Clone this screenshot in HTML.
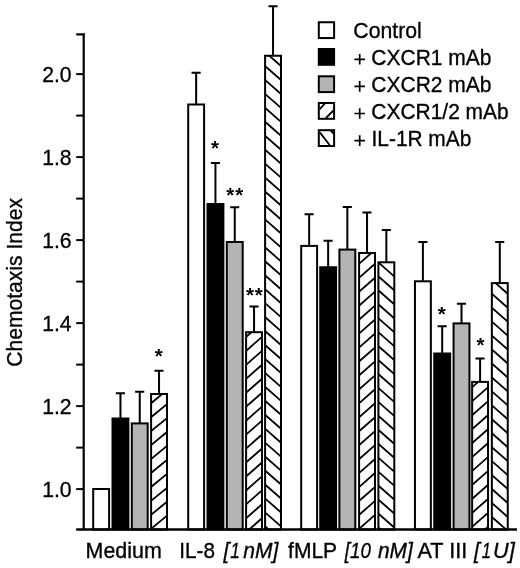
<!DOCTYPE html>
<html><head><meta charset="utf-8"><title>Chart</title>
<style>
html,body{margin:0;padding:0;background:#fff;}
body{width:520px;height:568px;overflow:hidden;}
svg{display:block;filter:grayscale(1);}
text{font-family:"Liberation Sans",sans-serif;font-size:20px;fill:#000;stroke:#000;stroke-width:0.3px;}
.i{font-style:italic;}
.st{font-weight:bold;font-size:20.5px;stroke:none;letter-spacing:0.8px;}
</style></head><body>
<svg width="520" height="568" viewBox="0 0 520 568">
<rect width="520" height="568" fill="#fff"/>

<defs><clipPath id="c1"><rect x="151.10" y="394.00" width="15.90" height="135.50"/></clipPath><clipPath id="c2"><rect x="246.10" y="332.20" width="15.90" height="197.30"/></clipPath><clipPath id="c3"><rect x="265.10" y="55.75" width="15.90" height="473.75"/></clipPath><clipPath id="c4"><rect x="359.10" y="253.00" width="15.90" height="276.50"/></clipPath><clipPath id="c5"><rect x="378.40" y="262.30" width="15.90" height="267.20"/></clipPath><clipPath id="c6"><rect x="472.15" y="381.90" width="15.90" height="147.60"/></clipPath><clipPath id="c7"><rect x="491.85" y="283.10" width="15.90" height="246.40"/></clipPath></defs>
<rect x="93.20" y="489.00" width="15.90" height="40.50" fill="#fff" stroke="#000" stroke-width="2.0"/>
<rect x="112.50" y="418.50" width="15.90" height="111.00" fill="#000" stroke="#000" stroke-width="2.0"/>
<path d="M120.45 418.00 V393.25 M115.85 393.25 H124.95" stroke="#000" stroke-width="2" fill="none"/>
<rect x="131.80" y="423.40" width="15.90" height="106.10" fill="#b4b4b4" stroke="#000" stroke-width="2.0"/>
<path d="M139.75 422.90 V391.75 M135.15 391.75 H144.25" stroke="#000" stroke-width="2" fill="none"/>
<rect x="151.10" y="394.00" width="15.90" height="135.50" fill="#fff" stroke="#000" stroke-width="2.0"/>
<path clip-path="url(#c1)" d="M148.10 363.81L170.00 345.85M148.10 377.76L170.00 359.80M148.10 391.71L170.00 373.75M148.10 405.66L170.00 387.70M148.10 419.61L170.00 401.65M148.10 433.56L170.00 415.60M148.10 447.51L170.00 429.55M148.10 461.46L170.00 443.50M148.10 475.41L170.00 457.45M148.10 489.36L170.00 471.40M148.10 503.31L170.00 485.35M148.10 517.26L170.00 499.30M148.10 531.21L170.00 513.25M148.10 545.16L170.00 527.20M148.10 559.11L170.00 541.15M148.10 573.06L170.00 555.10" stroke="#000" stroke-width="1.8" fill="none"/>
<path d="M159.05 393.50 V370.75 M154.45 370.75 H163.55" stroke="#000" stroke-width="2" fill="none"/>
<rect x="188.20" y="104.50" width="15.90" height="425.00" fill="#fff" stroke="#000" stroke-width="2.0"/>
<path d="M196.15 104.00 V72.75 M191.55 72.75 H200.65" stroke="#000" stroke-width="2" fill="none"/>
<rect x="207.50" y="204.00" width="15.90" height="325.50" fill="#000" stroke="#000" stroke-width="2.0"/>
<path d="M215.45 203.50 V163.00 M210.85 163.00 H219.95" stroke="#000" stroke-width="2" fill="none"/>
<rect x="226.80" y="242.00" width="15.90" height="287.50" fill="#b4b4b4" stroke="#000" stroke-width="2.0"/>
<path d="M234.75 241.50 V207.30 M230.15 207.30 H239.25" stroke="#000" stroke-width="2" fill="none"/>
<rect x="246.10" y="332.20" width="15.90" height="197.30" fill="#fff" stroke="#000" stroke-width="2.0"/>
<path clip-path="url(#c2)" d="M243.10 297.71L265.00 278.44M243.10 311.66L265.00 292.39M243.10 325.61L265.00 306.34M243.10 339.56L265.00 320.29M243.10 353.51L265.00 334.24M243.10 367.46L265.00 348.19M243.10 381.41L265.00 362.14M243.10 395.36L265.00 376.09M243.10 409.31L265.00 390.04M243.10 423.26L265.00 403.99M243.10 437.21L265.00 417.94M243.10 451.16L265.00 431.89M243.10 465.11L265.00 445.84M243.10 479.06L265.00 459.79M243.10 493.01L265.00 473.74M243.10 506.96L265.00 487.69M243.10 520.91L265.00 501.64M243.10 534.86L265.00 515.59M243.10 548.81L265.00 529.54M243.10 562.76L265.00 543.49M243.10 576.71L265.00 557.44" stroke="#000" stroke-width="1.8" fill="none"/>
<path d="M254.05 331.70 V306.40 M249.45 306.40 H258.55" stroke="#000" stroke-width="2" fill="none"/>
<rect x="265.10" y="55.75" width="15.90" height="473.75" fill="#fff" stroke="#000" stroke-width="2.0"/>
<path clip-path="url(#c3)" d="M262.10 7.59L284.00 26.86M262.10 21.54L284.00 40.81M262.10 35.49L284.00 54.76M262.10 49.44L284.00 68.71M262.10 63.39L284.00 82.66M262.10 77.34L284.00 96.61M262.10 91.29L284.00 110.56M262.10 105.24L284.00 124.51M262.10 119.19L284.00 138.46M262.10 133.14L284.00 152.41M262.10 147.09L284.00 166.36M262.10 161.04L284.00 180.31M262.10 174.99L284.00 194.26M262.10 188.94L284.00 208.21M262.10 202.89L284.00 222.16M262.10 216.84L284.00 236.11M262.10 230.79L284.00 250.06M262.10 244.74L284.00 264.01M262.10 258.69L284.00 277.96M262.10 272.64L284.00 291.91M262.10 286.59L284.00 305.86M262.10 300.54L284.00 319.81M262.10 314.49L284.00 333.76M262.10 328.44L284.00 347.71M262.10 342.39L284.00 361.66M262.10 356.34L284.00 375.61M262.10 370.29L284.00 389.56M262.10 384.24L284.00 403.51M262.10 398.19L284.00 417.46M262.10 412.14L284.00 431.41M262.10 426.09L284.00 445.36M262.10 440.04L284.00 459.31M262.10 453.99L284.00 473.26M262.10 467.94L284.00 487.21M262.10 481.89L284.00 501.16M262.10 495.84L284.00 515.11M262.10 509.79L284.00 529.06M262.10 523.74L284.00 543.01M262.10 537.69L284.00 556.96M262.10 551.64L284.00 570.91M262.10 565.59L284.00 584.86" stroke="#000" stroke-width="1.8" fill="none"/>
<path d="M273.05 55.25 V6.25 M268.45 6.25 H277.55" stroke="#000" stroke-width="2" fill="none"/>
<rect x="301.20" y="245.90" width="15.90" height="283.60" fill="#fff" stroke="#000" stroke-width="2.0"/>
<path d="M309.15 245.40 V214.25 M304.55 214.25 H313.65" stroke="#000" stroke-width="2" fill="none"/>
<rect x="320.20" y="267.25" width="15.90" height="262.25" fill="#000" stroke="#000" stroke-width="2.0"/>
<path d="M328.15 266.75 V240.75 M323.55 240.75 H332.65" stroke="#000" stroke-width="2" fill="none"/>
<rect x="339.40" y="249.60" width="15.90" height="279.90" fill="#b4b4b4" stroke="#000" stroke-width="2.0"/>
<path d="M347.35 249.10 V207.00 M342.75 207.00 H351.85" stroke="#000" stroke-width="2" fill="none"/>
<rect x="359.10" y="253.00" width="15.90" height="276.50" fill="#fff" stroke="#000" stroke-width="2.0"/>
<path clip-path="url(#c4)" d="M356.10 224.58L378.00 205.31M356.10 238.53L378.00 219.26M356.10 252.48L378.00 233.21M356.10 266.43L378.00 247.16M356.10 280.38L378.00 261.11M356.10 294.33L378.00 275.06M356.10 308.28L378.00 289.01M356.10 322.23L378.00 302.96M356.10 336.18L378.00 316.91M356.10 350.13L378.00 330.86M356.10 364.08L378.00 344.81M356.10 378.03L378.00 358.76M356.10 391.98L378.00 372.71M356.10 405.93L378.00 386.66M356.10 419.88L378.00 400.61M356.10 433.83L378.00 414.56M356.10 447.78L378.00 428.51M356.10 461.73L378.00 442.46M356.10 475.68L378.00 456.41M356.10 489.63L378.00 470.36M356.10 503.58L378.00 484.31M356.10 517.53L378.00 498.26M356.10 531.48L378.00 512.21M356.10 545.43L378.00 526.16M356.10 559.38L378.00 540.11M356.10 573.33L378.00 554.06" stroke="#000" stroke-width="1.8" fill="none"/>
<path d="M367.05 252.50 V212.50 M362.45 212.50 H371.55" stroke="#000" stroke-width="2" fill="none"/>
<rect x="378.40" y="262.30" width="15.90" height="267.20" fill="#fff" stroke="#000" stroke-width="2.0"/>
<path clip-path="url(#c5)" d="M375.40 217.98L397.30 237.25M375.40 231.93L397.30 251.20M375.40 245.88L397.30 265.15M375.40 259.83L397.30 279.10M375.40 273.78L397.30 293.05M375.40 287.73L397.30 307.00M375.40 301.68L397.30 320.95M375.40 315.63L397.30 334.90M375.40 329.58L397.30 348.85M375.40 343.53L397.30 362.80M375.40 357.48L397.30 376.75M375.40 371.43L397.30 390.70M375.40 385.38L397.30 404.65M375.40 399.33L397.30 418.60M375.40 413.28L397.30 432.55M375.40 427.23L397.30 446.50M375.40 441.18L397.30 460.45M375.40 455.13L397.30 474.40M375.40 469.08L397.30 488.35M375.40 483.03L397.30 502.30M375.40 496.98L397.30 516.25M375.40 510.93L397.30 530.20M375.40 524.88L397.30 544.15M375.40 538.83L397.30 558.10M375.40 552.78L397.30 572.05M375.40 566.73L397.30 586.00" stroke="#000" stroke-width="1.8" fill="none"/>
<path d="M386.35 261.80 V230.00 M381.75 230.00 H390.85" stroke="#000" stroke-width="2" fill="none"/>
<rect x="414.95" y="281.30" width="15.90" height="248.20" fill="#fff" stroke="#000" stroke-width="2.0"/>
<path d="M422.90 280.80 V242.00 M418.30 242.00 H427.40" stroke="#000" stroke-width="2" fill="none"/>
<rect x="434.25" y="353.50" width="15.90" height="176.00" fill="#000" stroke="#000" stroke-width="2.0"/>
<path d="M442.20 353.00 V326.25 M437.60 326.25 H446.70" stroke="#000" stroke-width="2" fill="none"/>
<rect x="453.55" y="323.40" width="15.90" height="206.10" fill="#b4b4b4" stroke="#000" stroke-width="2.0"/>
<path d="M461.50 322.90 V303.75 M456.90 303.75 H466.00" stroke="#000" stroke-width="2" fill="none"/>
<rect x="472.15" y="381.90" width="15.90" height="147.60" fill="#fff" stroke="#000" stroke-width="2.0"/>
<path clip-path="url(#c6)" d="M469.15 348.05L491.05 328.78M469.15 362.00L491.05 342.73M469.15 375.95L491.05 356.68M469.15 389.90L491.05 370.63M469.15 403.85L491.05 384.58M469.15 417.80L491.05 398.53M469.15 431.75L491.05 412.48M469.15 445.70L491.05 426.43M469.15 459.65L491.05 440.38M469.15 473.60L491.05 454.33M469.15 487.55L491.05 468.28M469.15 501.50L491.05 482.23M469.15 515.45L491.05 496.18M469.15 529.40L491.05 510.13M469.15 543.35L491.05 524.08M469.15 557.30L491.05 538.03M469.15 571.25L491.05 551.98" stroke="#000" stroke-width="1.8" fill="none"/>
<path d="M480.10 381.40 V358.50 M475.50 358.50 H484.60" stroke="#000" stroke-width="2" fill="none"/>
<rect x="491.85" y="283.10" width="15.90" height="246.40" fill="#fff" stroke="#000" stroke-width="2.0"/>
<path clip-path="url(#c7)" d="M488.85 235.31L510.75 254.58M488.85 249.26L510.75 268.53M488.85 263.21L510.75 282.48M488.85 277.16L510.75 296.43M488.85 291.11L510.75 310.38M488.85 305.06L510.75 324.33M488.85 319.01L510.75 338.28M488.85 332.96L510.75 352.23M488.85 346.91L510.75 366.18M488.85 360.86L510.75 380.13M488.85 374.81L510.75 394.08M488.85 388.76L510.75 408.03M488.85 402.71L510.75 421.98M488.85 416.66L510.75 435.93M488.85 430.61L510.75 449.88M488.85 444.56L510.75 463.83M488.85 458.51L510.75 477.78M488.85 472.46L510.75 491.73M488.85 486.41L510.75 505.68M488.85 500.36L510.75 519.63M488.85 514.31L510.75 533.58M488.85 528.26L510.75 547.53M488.85 542.21L510.75 561.48M488.85 556.16L510.75 575.43" stroke="#000" stroke-width="1.8" fill="none"/>
<path d="M499.80 282.60 V242.00 M495.20 242.00 H504.30" stroke="#000" stroke-width="2" fill="none"/>
<path d="M83.7 33.4 V529.5" stroke="#000" stroke-width="2.2" fill="none"/>
<path d="M76.2 529.5 H516.9" stroke="#000" stroke-width="2.4" fill="none"/>
<path d="M76.2 489.10 H84" stroke="#000" stroke-width="2" fill="none"/>
<path d="M76.2 447.60 H84" stroke="#000" stroke-width="2" fill="none"/>
<path d="M76.2 406.10 H84" stroke="#000" stroke-width="2" fill="none"/>
<path d="M76.2 364.60 H84" stroke="#000" stroke-width="2" fill="none"/>
<path d="M76.2 323.10 H84" stroke="#000" stroke-width="2" fill="none"/>
<path d="M76.2 281.60 H84" stroke="#000" stroke-width="2" fill="none"/>
<path d="M76.2 240.10 H84" stroke="#000" stroke-width="2" fill="none"/>
<path d="M76.2 198.60 H84" stroke="#000" stroke-width="2" fill="none"/>
<path d="M76.2 157.10 H84" stroke="#000" stroke-width="2" fill="none"/>
<path d="M76.2 115.60 H84" stroke="#000" stroke-width="2" fill="none"/>
<path d="M76.2 74.10 H84" stroke="#000" stroke-width="2" fill="none"/>
<path d="M76.2 34.4 H84.8" stroke="#000" stroke-width="2.2" fill="none"/>
<text x="71.6" y="496.60" text-anchor="end" style="font-size:21.2px">1.0</text>
<text x="71.6" y="413.60" text-anchor="end" style="font-size:21.2px">1.2</text>
<text x="71.6" y="330.60" text-anchor="end" style="font-size:21.2px">1.4</text>
<text x="71.6" y="247.60" text-anchor="end" style="font-size:21.2px">1.6</text>
<text x="71.6" y="164.60" text-anchor="end" style="font-size:21.2px">1.8</text>
<text x="71.6" y="81.60" text-anchor="end" style="font-size:21.2px">2.0</text>
<text transform="translate(21.60 366.75) rotate(-90) scale(1.0548 1.1200)">Chemotaxis Index</text>
<text transform="translate(85.59 558.30) scale(1.0718 1.0600)">Medium</text>
<text transform="translate(179.34 558.30) scale(1.0346 1.0600)">IL-8</text>
<text class="i" transform="translate(223.42 558.30) scale(1.0500 1.0600)">[</text>
<text class="i" transform="translate(230.16 558.30) scale(0.8764 1.0600)">1</text>
<text class="i" transform="translate(243.33 558.30) scale(1.0511 1.0600)">nM]</text>
<text transform="translate(288.08 558.30) scale(1.0508 1.0600)">fMLP</text>
<text class="i" transform="translate(344.78 558.30) scale(0.9393 1.0600)">[10</text>
<text class="i" transform="translate(377.98 558.30) scale(1.0450 1.0600)">nM]</text>
<text transform="translate(417.49 558.30) scale(1.0841 1.0600)">AT III</text>
<text class="i" transform="translate(474.02 558.30) scale(1.0500 1.0600)">[</text>
<text class="i" transform="translate(481.78 558.30) scale(0.8315 1.0600)">1</text>
<text class="i" transform="translate(492.97 558.30) scale(1.0847 1.0600)">U]</text>
<text transform="translate(353.34 37.70) scale(1.0628 1.1000)">Control</text>
<text transform="translate(371.35 64.80) scale(1.0506 1.1000)">CXCR1 mAb</text>
<text transform="translate(371.35 91.90) scale(1.0506 1.1000)">CXCR2 mAb</text>
<text transform="translate(371.35 119.00) scale(1.0480 1.1000)">CXCR1/2 mAb</text>
<text transform="translate(371.52 146.10) scale(1.0441 1.1000)">IL-1R mAb</text>
<path d="M354.40 59.30H365.00M359.70 54.00V64.60" stroke="#000" stroke-width="1.7" fill="none"/>
<path d="M354.40 86.40H365.00M359.70 81.10V91.70" stroke="#000" stroke-width="1.7" fill="none"/>
<path d="M354.40 113.50H365.00M359.70 108.20V118.80" stroke="#000" stroke-width="1.7" fill="none"/>
<path d="M354.40 140.60H365.00M359.70 135.30V145.90" stroke="#000" stroke-width="1.7" fill="none"/>
<rect x="318.80" y="22.25" width="15.3" height="15.8" fill="#fff" stroke="#000" stroke-width="2"/>
<rect x="318.80" y="49.00" width="15.3" height="15.8" fill="#000" stroke="#000" stroke-width="2"/>
<rect x="318.80" y="76.30" width="15.3" height="15.8" fill="#b4b4b4" stroke="#000" stroke-width="2"/>
<rect x="318.80" y="103.00" width="15.3" height="15.8" fill="#fff" stroke="#000" stroke-width="2"/>
<rect x="318.80" y="130.20" width="15.3" height="15.8" fill="#fff" stroke="#000" stroke-width="2"/>
<path d="M319.6 109.3L325.4 102.9M325.9 118L333.4 110.5M319.8 132.4L329.8 145.2M330.7 130.6L333.4 133.3" stroke="#000" stroke-width="1.8" fill="none"/>
<text class="st" x="159.15" y="363.10" text-anchor="middle">*</text>
<text class="st" x="215.4" y="155.45" text-anchor="middle">*</text>
<text class="st" x="235.15" y="201.85" text-anchor="middle">**</text>
<text class="st" x="254.8" y="301.65" text-anchor="middle">**</text>
<text class="st" x="442.15" y="321.10" text-anchor="middle">*</text>
<text class="st" x="480.9" y="351.85" text-anchor="middle">*</text>
</svg></body></html>
